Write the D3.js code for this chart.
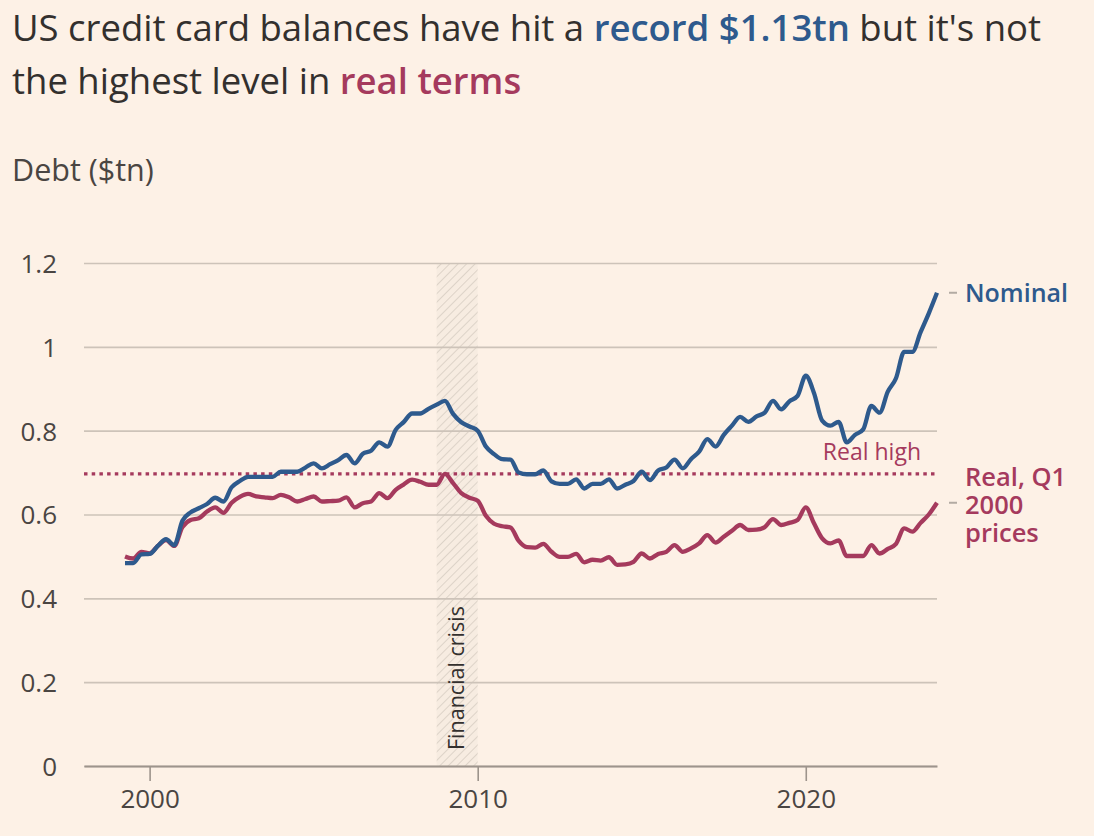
<html>
<head>
<meta charset="utf-8">
<style>
  body { margin: 0; background: #fdf1e6; }
  svg { display: block; font-family: "Open Sans", sans-serif; }
</style>
</head>
<body>
<div id="chart"></div>
<script src="https://d3js.org/d3.v7.min.js"></script>
<script>
// quarterly, 1999 Q1 .. 2023 Q4 (plotted at quarter end)
var startYear = 1999
var nominal = [
  0.484, 0.484, 0.505, 0.506,
  0.525, 0.541, 0.527, 0.585,
  0.605, 0.615, 0.625, 0.640,
  0.631, 0.665, 0.680, 0.690,
  0.690, 0.690, 0.690, 0.702,
  0.702, 0.702, 0.712, 0.722,
  0.710, 0.720, 0.730, 0.742,
  0.722, 0.745, 0.752, 0.772,
  0.762, 0.802, 0.821, 0.841,
  0.841, 0.852, 0.862, 0.871,
  0.840, 0.820, 0.810, 0.800,
  0.762, 0.744, 0.732, 0.731,
  0.700, 0.696, 0.696, 0.705,
  0.679, 0.673, 0.673, 0.684,
  0.662, 0.673, 0.673, 0.684,
  0.662, 0.671, 0.680, 0.702,
  0.682, 0.705, 0.712, 0.731,
  0.710, 0.732, 0.750, 0.780,
  0.762, 0.790, 0.812, 0.833,
  0.821, 0.834, 0.843, 0.871,
  0.851, 0.870, 0.883, 0.931,
  0.890, 0.824, 0.812, 0.821,
  0.772, 0.790, 0.803, 0.859,
  0.843, 0.893, 0.925, 0.988,
  0.988, 1.035, 1.080, 1.129
]
var real = [
  0.500, 0.495, 0.511, 0.507,
  0.525, 0.539, 0.525, 0.570,
  0.587, 0.591, 0.607, 0.617,
  0.604, 0.628, 0.642, 0.649,
  0.643, 0.641, 0.639, 0.647,
  0.641, 0.631, 0.637, 0.643,
  0.631, 0.632, 0.633, 0.641,
  0.617, 0.627, 0.631, 0.651,
  0.639, 0.659, 0.672, 0.683,
  0.678, 0.671, 0.671, 0.697,
  0.675, 0.651, 0.640, 0.633,
  0.597, 0.578, 0.572, 0.569,
  0.537, 0.522, 0.521, 0.530,
  0.511, 0.499, 0.499, 0.506,
  0.486, 0.492, 0.490, 0.498,
  0.480, 0.481, 0.487, 0.507,
  0.495, 0.506, 0.511, 0.527,
  0.511, 0.519, 0.531, 0.551,
  0.533, 0.547, 0.561, 0.575,
  0.563, 0.564, 0.570, 0.589,
  0.575, 0.580, 0.587, 0.617,
  0.579, 0.543, 0.531, 0.538,
  0.501, 0.501, 0.501, 0.527,
  0.507, 0.518, 0.530, 0.567,
  0.559, 0.580, 0.600, 0.628
]
var yTicks = [0, 0.2, 0.4, 0.6, 0.8, 1, 1.2]
var xTicks = [2000, 2010, 2020]
var crisis = [2008.75, 2010]

var blue = '#2e5a8d'
var red = '#a53a5d'
var ink = '#33302e'

var width = 1094
var height = 836

var svg = d3.select('#chart').append('svg')
    .attr('width', width)
    .attr('height', height)
    .style('background-color', '#fdf1e6')

var x = d3.scaleLinear().domain([1998, 2024]).range([84, 937])
var y = d3.scaleLinear().domain([0, 1.2]).range([766, 263])

function dateOf(i) { return startYear + (i + 1) / 4 }

// title
var t1 = svg.append('text').attr('x', 12).attr('y', 41)
    .style('font-size', '36.5px').style('fill', ink)
t1.append('tspan').text('US credit card balances have hit a ')
t1.append('tspan').text('record $1.13tn').style('fill', blue).style('font-weight', 600)
t1.append('tspan').text(" but it's not")
var t2 = svg.append('text').attr('x', 12).attr('y', 94)
    .style('font-size', '36.5px').style('fill', ink)
t2.append('tspan').text('the highest level in ')
t2.append('tspan').text('real terms').style('fill', red).style('font-weight', 600)

svg.append('text').attr('x', 12).attr('y', 181)
    .style('font-size', '30.5px').style('fill', '#4a4542')
    .text('Debt ($tn)')

// hatch pattern for the crisis band
var defs = svg.append('defs')
var pat = defs.append('pattern')
    .attr('id', 'hatch')
    .attr('patternUnits', 'userSpaceOnUse')
    .attr('width', 6).attr('height', 6)
    .attr('patternTransform', 'rotate(45)')
pat.append('rect').attr('width', 6).attr('height', 6).attr('fill', '#f7ece1')
pat.append('line').attr('x1', 0).attr('y1', 0).attr('x2', 0).attr('y2', 6)
    .attr('stroke', '#ddd3c8').attr('stroke-width', 2)

svg.append('rect')
    .attr('x', x(crisis[0]))
    .attr('y', y(1.2))
    .attr('width', x(crisis[1]) - x(crisis[0]))
    .attr('height', y(0) - y(1.2))
    .attr('fill', 'url(#hatch)')

// grid + y labels
var yAxis = svg.append('g')
    .attr('transform', 'translate(84,0)')
    .call(d3.axisLeft(y).tickValues(yTicks).tickSize(-(937 - 84)).tickFormat(d3.format('~g')))
yAxis.select('.domain').remove()
yAxis.selectAll('.tick line').attr('stroke', '#cdc3b9').attr('stroke-width', 1.6)
yAxis.selectAll('.tick text')
    .attr('x', -27)
    .attr('dy', '0.36em')
    .style('font-size', '26px')
    .style('font-family', '"Open Sans", sans-serif')
    .style('fill', '#4a4542')

// x axis
var xAxis = svg.append('g')
    .attr('transform', 'translate(0,' + y(0) + ')')
    .call(d3.axisBottom(x).tickValues(xTicks).tickSize(15).tickSizeOuter(0).tickFormat(d3.format('d')))
xAxis.select('.domain').attr('stroke', '#9d948c').attr('stroke-width', 2)
xAxis.selectAll('.tick line').attr('stroke', '#9d948c').attr('stroke-width', 1.6)
xAxis.selectAll('.tick text')
    .attr('y', 24)
    .attr('dy', '0.71em')
    .style('font-size', '26px')
    .style('font-family', '"Open Sans", sans-serif')
    .style('fill', '#4a4542')

// financial crisis label
svg.append('text')
    .attr('transform', 'translate(' + (x((crisis[0] + crisis[1]) / 2) + 7) + ',750) rotate(-90)')
    .style('font-size', '21.5px')
    .style('fill', ink)
    .text('Financial crisis')

// real high dotted line
var realHigh = d3.max(real)
svg.append('line')
    .attr('x1', x(1998)).attr('x2', x(2024))
    .attr('y1', y(realHigh)).attr('y2', y(realHigh))
    .attr('stroke', red)
    .attr('stroke-width', 3.2)
    .attr('stroke-dasharray', '3.5,4.2')
svg.append('text')
    .attr('x', 921).attr('y', y(realHigh) - 14)
    .attr('text-anchor', 'end')
    .style('font-size', '23px')
    .style('fill', red)
    .text('Real high')

// lines
var line = d3.line()
    .x(function(d, i) { return x(dateOf(i)) })
    .y(function(d) { return y(d) })
    .curve(d3.curveMonotoneX)

svg.append('path').datum(real)
    .attr('fill', 'none').attr('stroke', red).attr('stroke-width', 4.3)
    .attr('stroke-linejoin', 'round')
    .attr('d', line)
svg.append('path').datum(nominal)
    .attr('fill', 'none').attr('stroke', blue).attr('stroke-width', 4.3)
    .attr('stroke-linejoin', 'round')
    .attr('d', line)

// end labels
var lastN = nominal[nominal.length - 1]
var lastR = real[real.length - 1]
svg.append('line').attr('x1', 949).attr('x2', 957)
    .attr('y1', y(lastN)).attr('y2', y(lastN))
    .attr('stroke', '#b3aba3').attr('stroke-width', 2)
svg.append('line').attr('x1', 949).attr('x2', 957)
    .attr('y1', y(lastR)).attr('y2', y(lastR))
    .attr('stroke', '#b3aba3').attr('stroke-width', 2)

svg.append('text')
    .attr('x', 965).attr('y', y(lastN) + 9)
    .style('font-size', '25px').style('font-weight', 600)
    .style('fill', blue)
    .text('Nominal')

var realLabel = ['Real, Q1', '2000', 'prices']
svg.append('text')
    .attr('x', 965).attr('y', 486)
    .style('font-size', '25.5px').style('font-weight', 600)
    .style('fill', red)
    .selectAll('tspan')
    .data(realLabel)
    .join('tspan')
    .attr('x', 965)
    .attr('dy', function(d, i) { return i === 0 ? 0 : 28 })
    .text(function(d) { return d })
</script>
</body>
</html>
